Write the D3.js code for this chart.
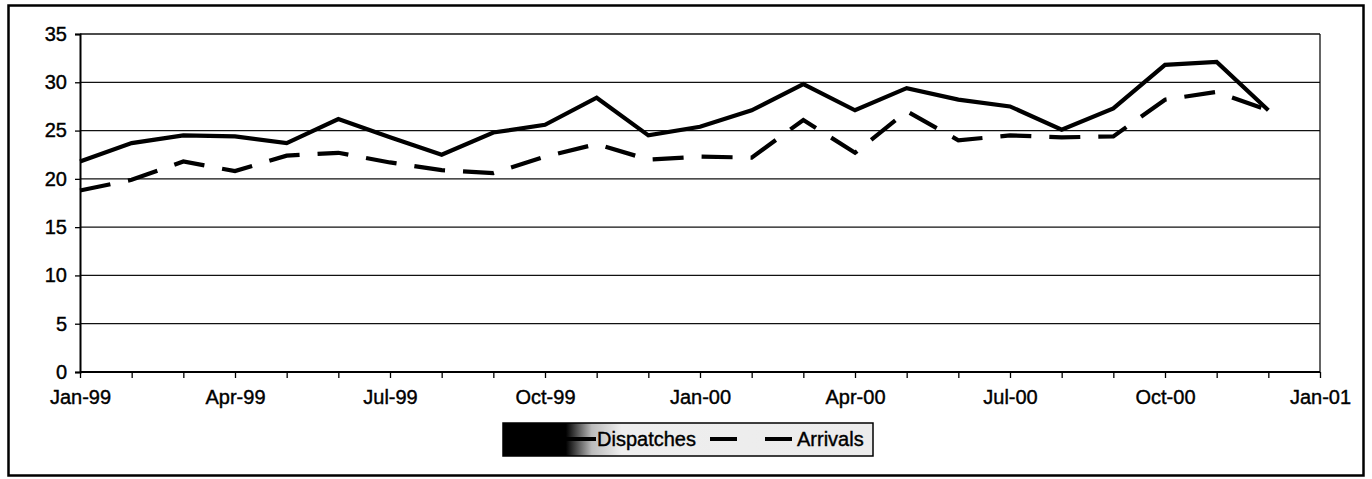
<!DOCTYPE html>
<html>
<head>
<meta charset="utf-8">
<script src="https://cdn.jsdelivr.net/npm/d3@7"></script>
<style>
  html, body { margin: 0; padding: 0; background: #fff; }
  svg { display: block; font-family: "Liberation Sans", Arial, sans-serif; }
</style>
</head>
<body>
<svg id="chart" width="1372" height="479"></svg>
<script>
// ---- data ----
const months = ["Jan-99","Feb-99","Mar-99","Apr-99","May-99","Jun-99","Jul-99","Aug-99","Sep-99","Oct-99","Nov-99","Dec-99",
                "Jan-00","Feb-00","Mar-00","Apr-00","May-00","Jun-00","Jul-00","Aug-00","Sep-00","Oct-00","Nov-00","Dec-00"];
const dispatches = [21.8, 23.7, 24.5, 24.4, 23.7, 26.2, 24.3, 22.5, 24.8, 25.6, 28.4, 24.5,
                    25.4, 27.1, 29.8, 27.1, 29.4, 28.2, 27.5, 25.1, 27.3, 31.8, 32.1, 27.1];
const arrivals   = [18.8, 19.9, 21.8, 20.8, 22.4, 22.7, 21.7, 20.9, 20.6, 22.3, 23.6, 22.0,
                    22.3, 22.2, 26.1, 22.7, 27.0, 24.0, 24.5, 24.3, 24.4, 28.2, 29.0, 27.1];
const xTickLabels = ["Jan-99","Apr-99","Jul-99","Oct-99","Jan-00","Apr-00","Jul-00","Oct-00","Jan-01"];
const yTicks = [0, 5, 10, 15, 20, 25, 30, 35];
const seriesNames = ["Dispatches", "Arrivals"];

// ---- layout ----
const svg = d3.select("#chart");
const plot = { left: 80, right: 1320, top: 34, bottom: 372 };

// month index scale (Excel date axis in months: equal spacing)
const x = d3.scaleLinear().domain([0, 24]).range([plot.left, plot.right]);
const y = d3.scaleLinear().domain([0, 35]).range([plot.bottom, plot.top]);

// outer border
svg.append("rect")
  .attr("x", 8.5).attr("y", 5.5).attr("width", 1355).attr("height", 470)
  .attr("fill", "#fff").attr("stroke", "#000").attr("stroke-width", 2.5);

// gridlines
svg.append("g")
  .selectAll("line").data(yTicks.filter(d => d > 0)).join("line")
  .attr("x1", plot.left).attr("x2", plot.right)
  .attr("y1", d => y(d)).attr("y2", d => y(d))
  .attr("stroke", "#111").attr("stroke-width", 1.3);

// right plot border
svg.append("line")
  .attr("x1", plot.right).attr("x2", plot.right)
  .attr("y1", plot.top).attr("y2", plot.bottom)
  .attr("stroke", "#111").attr("stroke-width", 1.3);

// y axis
const yAxis = d3.axisLeft(y).tickValues(yTicks).tickSize(5).tickPadding(8).tickFormat(d3.format("d"));
const gy = svg.append("g").attr("transform", `translate(${plot.left},0)`).call(yAxis);
gy.select(".domain").attr("stroke", "#000").attr("stroke-width", 2);
gy.selectAll(".tick line").attr("stroke", "#000").attr("stroke-width", 1.3);
gy.selectAll("text").attr("font-size", 20).attr("fill", "#000")
  .attr("stroke", "#000").attr("stroke-width", 0.4)
  .attr("font-family", "'Liberation Sans', Arial, sans-serif");

// x axis
const xAxis = d3.axisBottom(x)
  .tickValues(d3.range(0, 25))
  .tickSize(6).tickPadding(12)
  .tickFormat(i => i % 3 === 0 ? xTickLabels[i / 3] : "");
const gx = svg.append("g").attr("transform", `translate(0,${plot.bottom})`).call(xAxis);
gx.select(".domain").attr("stroke", "#000").attr("stroke-width", 2).attr("d", `M${plot.left},0H${plot.right}`);
gx.selectAll(".tick line").attr("stroke", "#000").attr("stroke-width", 1.3);
gx.selectAll("text").attr("font-size", 20).attr("fill", "#000")
  .attr("stroke", "#000").attr("stroke-width", 0.4)
  .attr("font-family", "'Liberation Sans', Arial, sans-serif");

// lines
const line = d3.line().x((d, i) => x(i)).y(d => y(d));
svg.append("path").datum(dispatches)
  .attr("d", line).attr("fill", "none").attr("stroke", "#000")
  .attr("stroke-width", 4.2).attr("stroke-linejoin", "miter");
svg.append("path").datum(arrivals)
  .attr("d", line).attr("fill", "none").attr("stroke", "#000")
  .attr("stroke-width", 4.2).attr("stroke-dasharray", "31,18");

// legend
const defs = svg.append("defs");
const grad = defs.append("linearGradient").attr("id", "lg").attr("x1", "0").attr("x2", "1");
grad.append("stop").attr("offset", "0").attr("stop-color", "#000");
grad.append("stop").attr("offset", "0.17").attr("stop-color", "#000");
grad.append("stop").attr("offset", "0.24").attr("stop-color", "#bbb");
grad.append("stop").attr("offset", "0.32").attr("stop-color", "#eee");
grad.append("stop").attr("offset", "1").attr("stop-color", "#ececec");

const lg = svg.append("g");
lg.append("rect").attr("x", 503).attr("y", 423).attr("width", 370).attr("height", 33)
  .attr("fill", "url(#lg)").attr("stroke", "#000").attr("stroke-width", 1.5);
lg.append("line").attr("x1", 563).attr("x2", 596).attr("y1", 439).attr("y2", 439)
  .attr("stroke", "#000").attr("stroke-width", 4);
lg.append("text").attr("x", 597).attr("y", 446).attr("font-size", 20)
  .attr("stroke", "#000").attr("stroke-width", 0.4).text(seriesNames[0]);
lg.append("line").attr("x1", 710).attr("x2", 796).attr("y1", 439).attr("y2", 439)
  .attr("stroke", "#000").attr("stroke-width", 4).attr("stroke-dasharray", "27,28");
lg.append("text").attr("x", 797).attr("y", 446).attr("font-size", 20)
  .attr("stroke", "#000").attr("stroke-width", 0.4).text(seriesNames[1]);
</script>
</body>
</html>
